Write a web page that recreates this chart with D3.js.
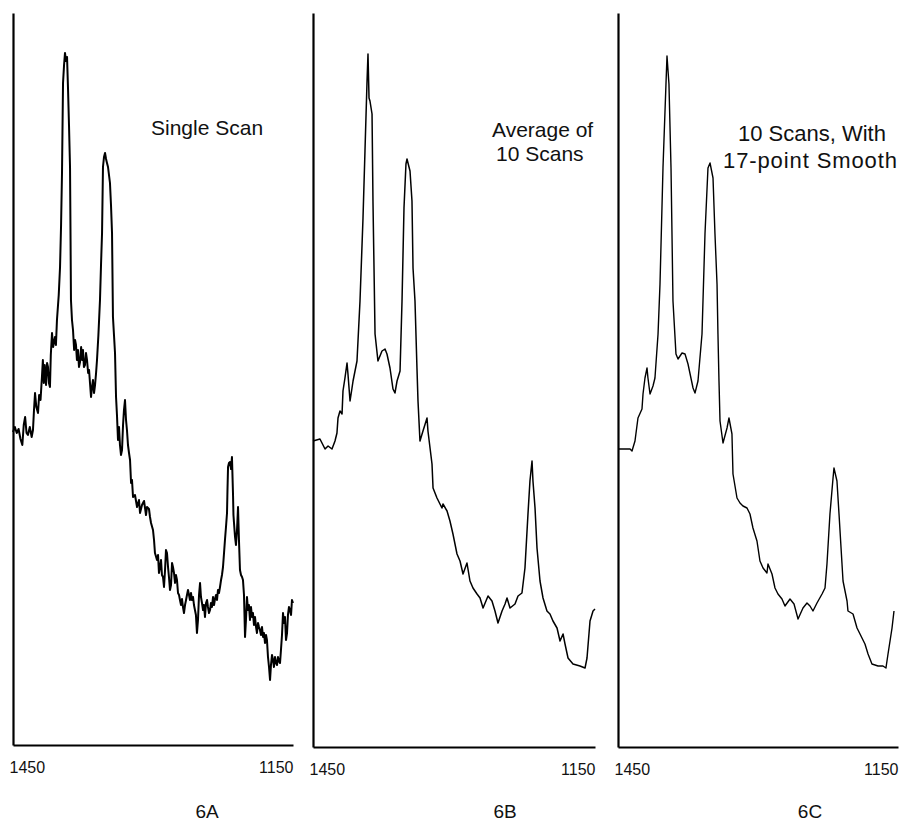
<!DOCTYPE html>
<html>
<head>
<meta charset="utf-8">
<script src="https://cdn.jsdelivr.net/npm/d3@7"></script>
<style>
  html, body { margin: 0; padding: 0; background: #fff; }
  svg { display: block; }
  text { font-family: "Liberation Sans", Arial, Helvetica, sans-serif; fill: #111; }
</style>
</head>
<body>
<svg id="chart" width="904" height="825"></svg>
<script>
// ---- DATA (wavenumber cm-1, intensity in arbitrary units) ----
const xTicks = [1450, 1150];
const panelLabels = ["6A", "6B", "6C"];
const captions = [["Single Scan"], ["Average of", "10 Scans"], ["10 Scans, With", "17-point Smooth"]];

const singleScan = [[1450,313],[1448,318],[1446,312],[1444,316],[1442,306],[1440,300],[1438.5,320],[1437,328],[1435.5,312],[1434,310],[1432,318],[1430,308],[1428.6,315],[1427.5,335],[1426.4,352],[1425,338],[1423.2,332],[1422,350],[1420.5,345],[1419,368],[1418,385],[1417,362],[1416,380],[1414.6,360],[1413.5,382],[1412.5,378],[1411.5,362],[1410.4,358],[1409.5,390],[1408.2,412],[1407,398],[1405,408],[1404,400],[1402.9,425],[1401,450],[1399.6,478],[1398.5,520],[1397.5,572],[1396.4,662],[1395.3,680],[1394.3,692],[1393.2,684],[1392.1,688],[1391.1,658],[1390,620],[1388.9,578],[1388.3,500],[1387.9,445],[1386.8,425],[1385.7,415],[1384.5,395],[1383.5,405],[1382.5,400],[1381.5,385],[1380.4,395],[1379.3,378],[1378.2,383],[1377,398],[1376,385],[1375,395],[1374,378],[1372.9,380],[1371.8,392],[1370.7,385],[1369.5,372],[1368.5,375],[1367.5,362],[1366.4,348],[1365.3,358],[1364.3,365],[1363.2,352],[1362.1,360],[1361,372],[1360,385],[1358.5,410],[1356.8,445],[1355.7,480],[1354.6,512],[1353.6,578],[1352.5,588],[1351.4,592],[1350.3,586],[1349.3,582],[1348.2,578],[1346.1,562],[1345,540],[1343.9,512],[1342.9,428],[1341.8,410],[1340.7,392],[1339.6,348],[1338.6,330],[1337.5,305],[1336.4,318],[1335.4,300],[1334.3,290],[1333.2,295],[1332.1,320],[1331.1,335],[1330,345],[1328.9,325],[1327.9,315],[1326.8,300],[1325.7,292],[1324.6,285],[1323.5,262],[1322.5,265],[1321.4,248],[1319.3,250],[1317.1,238],[1315,245],[1313.9,232],[1311.8,240],[1309.6,244],[1307.5,230],[1306.4,238],[1304.3,236],[1303.2,228],[1302.1,222],[1300,215],[1298.9,205],[1297.9,192],[1295.7,185],[1294.6,190],[1293.6,172],[1292.5,178],[1291.4,185],[1290.4,170],[1289.3,168],[1288.2,158],[1287.1,175],[1286.1,195],[1285,192],[1283.9,178],[1282.9,168],[1281.8,155],[1280.7,160],[1279.6,182],[1278.6,178],[1277.5,172],[1276.4,162],[1275.4,170],[1274.3,165],[1273.2,152],[1272.1,150],[1271.1,145],[1270,140],[1268.9,146],[1267.9,138],[1266.8,132],[1265.7,140],[1264.6,145],[1263.6,150],[1262.5,155],[1261.4,150],[1260.4,145],[1259.3,152],[1258.2,145],[1257.1,148],[1256.1,140],[1254,130],[1252.9,112],[1251.8,125],[1250.7,150],[1249.6,162],[1248.6,148],[1247.5,142],[1246.4,135],[1245.4,140],[1244.3,128],[1243.2,142],[1242.1,145],[1241.1,138],[1240,132],[1238.9,135],[1237.9,142],[1236.8,138],[1235.7,148],[1234.6,140],[1233.6,146],[1232.5,150],[1231.4,145],[1230.4,155],[1229.3,152],[1228.2,158],[1227.1,165],[1226.1,170],[1225,178],[1223.9,192],[1222.9,205],[1221.8,218],[1220.7,232],[1220.2,255],[1219.6,278],[1218.6,282],[1217.5,283],[1216.4,276],[1215.4,288],[1214.3,252],[1213.8,230],[1213.2,222],[1212.1,208],[1211.1,200],[1210,215],[1209.5,225],[1208.9,238],[1207.9,205],[1206.8,175],[1205.7,170],[1204.6,168],[1203.6,165],[1202.5,150],[1201.4,108],[1200.4,125],[1199.3,148],[1198.2,135],[1197.2,140],[1196.1,125],[1195,138],[1193.9,128],[1192.9,132],[1191.8,120],[1190.7,128],[1189.6,118],[1188.6,112],[1187.5,122],[1186.4,118],[1185.4,115],[1184.3,110],[1183.2,118],[1182.1,108],[1181.1,112],[1180,102],[1178.9,110],[1177.9,105],[1176.8,88],[1175.7,78],[1174.6,65],[1173.6,80],[1172.5,90],[1171.4,85],[1170.4,78],[1169.3,88],[1168.2,82],[1167.1,80],[1166.1,88],[1165,84],[1163.9,82],[1162.9,95],[1161.8,110],[1160.7,132],[1159.7,122],[1158.6,128],[1157.5,105],[1156.4,112],[1155.4,130],[1154.3,138],[1153.2,135],[1152.1,130],[1151.1,145],[1150,142]];

const averageScan = [[1450,306],[1442.6,308],[1437.2,298],[1434,301],[1429.8,298],[1426.6,306],[1424.5,314],[1423.4,329],[1421.3,336],[1419.1,333],[1418.1,356],[1416,369],[1413.8,384],[1412.8,373],[1410.6,346],[1408.5,359],[1407.4,366],[1403.2,386],[1400,446],[1396.8,529],[1394.7,596],[1392.6,663],[1391.5,693],[1390.4,649],[1389.4,646],[1387.2,633],[1386.2,546],[1384,413],[1380.9,386],[1376.6,396],[1373.4,398],[1371.3,393],[1368.1,379],[1364.9,358],[1362.8,354],[1360.6,366],[1357.4,376],[1355.3,446],[1353.2,539],[1351.1,583],[1350,588],[1346.8,576],[1344.7,546],[1343.6,479],[1341.5,446],[1339.4,379],[1338.3,346],[1336.2,306],[1333,316],[1328.7,329],[1327.7,316],[1323.4,283],[1322.3,259],[1318.1,249],[1312.8,239],[1311.7,243],[1307.4,236],[1304.3,226],[1301.1,213],[1296.8,193],[1293.6,186],[1290.4,173],[1286.2,184],[1283,166],[1279.8,159],[1275.5,153],[1272.3,149],[1269.1,139],[1263.8,151],[1259.6,146],[1256.4,136],[1253.2,124],[1248.9,136],[1245.7,143],[1243.6,149],[1240.4,139],[1235.1,143],[1231.9,151],[1227.7,154],[1224.5,179],[1221.3,233],[1219.2,266],[1217,286],[1216,266],[1213.8,239],[1211.7,199],[1208.5,166],[1205.3,149],[1201.1,136],[1197.9,133],[1194.7,126],[1190.4,119],[1187.2,106],[1184,113],[1181.9,103],[1178.7,89],[1173.4,83],[1166,81],[1160.6,79],[1158.5,89],[1155.3,126],[1152.1,136],[1150,138]];

const smoothedScan = [[1450,298],[1447.9,298],[1437.1,298],[1435,296],[1431.8,306],[1428.6,329],[1424.3,338],[1423.2,353],[1421.1,369],[1418.9,379],[1417.9,369],[1415.7,353],[1412.5,361],[1410.4,369],[1407.1,413],[1405,463],[1401.8,579],[1398.6,663],[1397.5,691],[1395.4,663],[1393.2,579],[1391.1,446],[1387.9,393],[1385.7,388],[1381.4,394],[1378.2,393],[1375,383],[1369.6,359],[1367.5,354],[1364.3,366],[1360,413],[1356.8,513],[1353.6,579],[1351.4,584],[1348.2,569],[1346.1,513],[1343.9,463],[1342.9,413],[1341.8,366],[1340.7,326],[1337.5,304],[1333.2,319],[1331.1,329],[1327.9,313],[1326.8,273],[1322.5,249],[1319.3,244],[1316.1,241],[1311.8,239],[1308.6,233],[1305.4,219],[1301.1,206],[1297.9,186],[1294.6,179],[1290.4,174],[1289.3,183],[1285,173],[1281.8,159],[1278.6,153],[1274.3,148],[1271.1,141],[1265.7,148],[1261.4,143],[1257.1,128],[1251.8,139],[1247.5,144],[1244.3,141],[1241.1,136],[1236.8,144],[1231.4,153],[1228.2,159],[1226.1,183],[1222.9,233],[1219.6,269],[1218.6,279],[1215.4,266],[1213.2,233],[1208.9,166],[1204.6,146],[1203.6,136],[1198.2,133],[1193.9,119],[1190.7,113],[1185.4,103],[1182.1,93],[1177.9,83],[1171.4,81],[1166.1,81],[1162.9,79],[1160.7,93],[1156.4,119],[1154.3,136]];

const seriesList = [singleScan, averageScan, smoothedScan];

// ---- LAYOUT ----
const svg = d3.select("#chart");
const panels = [
  { left: 13,  right: 293, base: 745, stroke: 2.0, lab: 207, fs: 21,
    cap: [{x:151, y:135, a:"start"}] },
  { left: 313, right: 595, base: 747, stroke: 1.5, lab: 505, fs: 21,
    cap: [{x:492, y:137, a:"start"}, {x:496, y:161, a:"start"}] },
  { left: 618, right: 898, base: 747, stroke: 1.4, lab: 810, fs: 22,
    cap: [{x:812, y:141, a:"middle"}, {x:810, y:168, a:"middle", len:174}] }
];
const plotTop = 13;

panels.forEach((p, i) => {
  const x = d3.scaleLinear().domain([1450, 1150]).range([p.left, p.right]);
  const y = d3.scaleLinear().domain([0, p.base - plotTop]).range([p.base, plotTop]);
  const g = svg.append("g");

  const ax = g.append("g").attr("transform", `translate(0,${p.base})`)
    .call(d3.axisBottom(x).tickValues(xTicks).tickFormat(d3.format("d"))
      .tickSize(0).tickSizeOuter(0).tickPadding(17));
  ax.attr("font-size", 16).attr("font-family", "'Liberation Sans', Arial, sans-serif");
  ax.select(".domain").attr("stroke", "#000").attr("stroke-width", 2.2);
  ax.selectAll(".tick text")
    .attr("fill", "#111")
    .attr("text-anchor", (d, j) => j === 0 ? "start" : "end")
    .attr("dx", (d, j) => j === 0 ? "-4" : "0");

  const ay = g.append("g").attr("transform", `translate(${p.left},0)`)
    .call(d3.axisLeft(y).tickValues([]).tickSizeOuter(0));
  ay.select(".domain").attr("stroke", "#000").attr("stroke-width", 2.2);

  const line = d3.line().x(d => x(d[0])).y(d => y(d[1]));
  g.append("path").datum(seriesList[i])
    .attr("fill", "none").attr("stroke", "#000")
    .attr("stroke-width", p.stroke).attr("stroke-linejoin", "round")
    .attr("d", line);

  captions[i].forEach((t, k) => {
    const c = p.cap[k];
    const tx = g.append("text").attr("x", c.x).attr("y", c.y)
      .attr("text-anchor", c.a)
      .style("font-size", p.fs + "px").text(t);
    if (c.len) tx.attr("textLength", c.len).attr("lengthAdjust", "spacing");
  });

  g.append("text").attr("x", p.lab).attr("y", 818).attr("text-anchor", "middle")
    .style("font-size", "19px").text(panelLabels[i]);
});
</script>
</body>
</html>
